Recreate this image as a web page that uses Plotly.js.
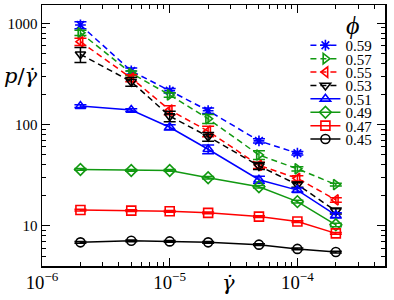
<!DOCTYPE html>
<html><head><meta charset="utf-8">
<script src="https://cdn.plot.ly/plotly-3.0.1.min.js"></script>
<style>html,body{margin:0;padding:0;background:#fff}#chart{width:394px;height:300px}</style>
</head><body><div id="chart"></div>
<script>
// shear rates (x)
const shearRate = [2e-6, 5e-6, 1e-5, 2e-5, 5e-5, 1e-4, 2e-4];
// series labels (phi)
const phiLabels = ["0.59", "0.57", "0.55", "0.53", "0.51", "0.49", "0.47", "0.45"];
// p / gamma-dot values per phi
const phi059 = [962, 338, 216, 137, 69, 52];
const phi057 = [807, 321, 196, 114, 50, 36.5, 25.5];
const phi055 = [658, 288, 139, 86, 39.5, 29.4, 18];
const phi053 = [494, 265, 121, 76, 39, 25.5, 14];
const phi051 = [152, 139, 94, 57, 28.5, 22.5, 12.7];
const phi049 = [36, 35.2, 35.2, 29.8, 24.3, 17.3, 10.2];
const phi047 = [14.3, 14.1, 13.9, 13.4, 12.3, 11, 8.4];
const phi045 = [6.85, 7.1, 7.0, 6.85, 6.5, 5.9, 5.5];
// relative error bars
const err059 = [0.08, 0.07, 0.05, 0.06, 0.05, 0.04];
const err057 = [0.06, 0.05, 0.05, 0.10, 0.10, 0.05, 0.03];
const err055 = [0.08, 0.08, 0.10, 0.12, 0.07, 0.06, 0.05];
const err053 = [0.17, 0.10, 0.12, 0.10, 0.08, 0.06, 0.07];
const err051 = [0.03, 0.03, 0.06, 0.10, 0.08, 0.05, 0.06];
const err049 = [0.02, 0.02, 0.02, 0.03, 0.03, 0.03, 0.04];
const err047 = [0.02, 0.02, 0.02, 0.02, 0.02, 0.02, 0.02];
const err045 = [0.02, 0.02, 0.02, 0.02, 0.02, 0.02, 0.02];

const BLUE = "#0000ff", GREEN = "#119911", RED = "#ff0000", BLACK = "#000000";
const seriesValues = [phi059, phi057, phi055, phi053, phi051, phi049, phi047, phi045];
const seriesErr = [err059, err057, err055, err053, err051, err049, err047, err045];
const styles = [
  {c: BLUE,  s: "asterisk-open",       d: "6px,4px"},
  {c: GREEN, s: "triangle-right-open", d: "6px,4px"},
  {c: RED,   s: "triangle-left-open",  d: "6px,4px"},
  {c: BLACK, s: "triangle-down-open",  d: "6px,4px"},
  {c: BLUE,  s: "triangle-up-open",    d: "solid"},
  {c: GREEN, s: "diamond-open",        d: "solid"},
  {c: RED,   s: "square-open",         d: "solid"},
  {c: BLACK, s: "circle-open",         d: "solid"}
];

const traces = seriesValues.map((vals, i) => ({
  x: shearRate.slice(0, vals.length),
  y: vals,
  name: phiLabels[i],
  type: "scatter",
  mode: "lines+markers",
  line: {color: styles[i].c, width: 1.5, dash: styles[i].d},
  marker: {symbol: styles[i].s, size: 9, color: styles[i].c, line: {color: styles[i].c, width: 1.6}},
  error_y: {type: "data", array: vals.map((v, j) => v * seriesErr[i][j]), color: styles[i].c, thickness: 1.5, width: 6}
}));

const serif = "Liberation Serif, Times New Roman, serif";
const dejavu = "DejaVu Serif, serif";
const axisCommon = {
  type: "log", showgrid: false, zeroline: false,
  showline: true, linecolor: "black", linewidth: 1.5, mirror: "ticks",
  ticks: "inside", ticklen: 8, tickwidth: 1, tickcolor: "black",
  dtick: 1,
  minor: {ticks: "inside", ticklen: 4, tickwidth: 1, tickcolor: "black", dtick: "D1", showgrid: false},
  tickfont: {family: serif, size: 15, color: "black"},
  automargin: false
};

const layout = {
  width: 394, height: 300,
  margin: {l: 42, r: 9, t: 5, b: 34},
  paper_bgcolor: "white", plot_bgcolor: "white",
  showlegend: true,
  legend: {x: 0.768, y: 0.908, xanchor: "left", yanchor: "top", bgcolor: "rgba(0,0,0,0)", borderwidth: 0,
           font: {family: serif, size: 15, color: "black"}},
  xaxis: Object.assign({}, axisCommon, {range: [-6, -3.314], exponentformat: "power"}),
  yaxis: Object.assign({}, axisCommon, {range: [0.602, 3.181], exponentformat: "none"}),
  annotations: [
    {text: "<i>p</i>/<i>γ̇</i>", xref: "paper", yref: "paper", x: -0.06, y: 0.728, xanchor: "center", yanchor: "middle",
     showarrow: false, font: {family: dejavu, size: 21, color: "black"}},
    {text: "<i>γ̇</i>", xref: "paper", yref: "paper", x: 0.545, y: -0.064, xanchor: "center", yanchor: "middle",
     showarrow: false, font: {family: dejavu, size: 21, color: "black"}},
    {text: "<i>ϕ</i>", xref: "paper", yref: "paper", x: 0.905, y: 0.923, xanchor: "center", yanchor: "middle",
     showarrow: false, font: {family: serif, size: 26, color: "black"}}
  ]
};

Plotly.newPlot("chart", traces, layout, {staticPlot: true, displayModeBar: false}).then(gd => {
  const items = gd.querySelectorAll(".legend .traces");
  if (!items.length) return;
  const re = /translate\(\s*([-\d.e]+)[ ,]+([-\d.e]+)/;
  const m0 = (items[0].getAttribute("transform") || "").match(re);
  if (!m0) return;
  const x0 = parseFloat(m0[1]), y0 = parseFloat(m0[2]);
  items.forEach((el, i) => {
    el.setAttribute("transform", "translate(" + x0 + "," + (y0 + i * 13.4) + ")");
  });
});
</script>
</body></html>
